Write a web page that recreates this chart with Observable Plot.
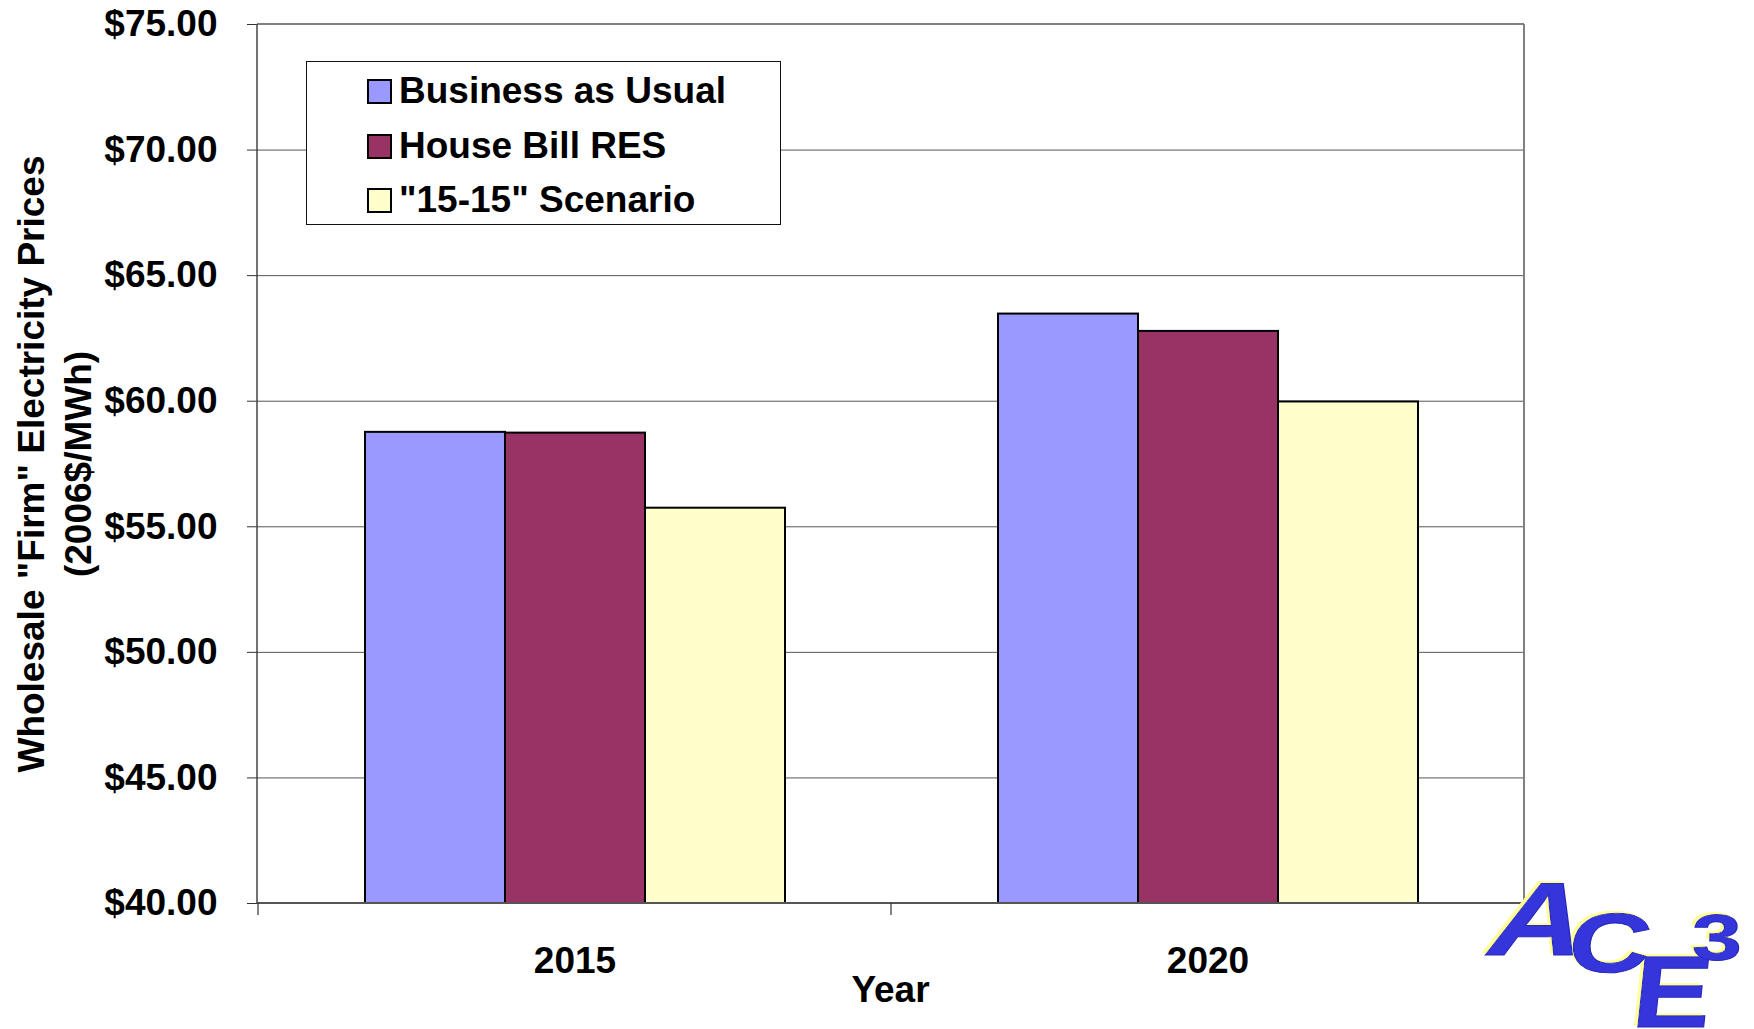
<!DOCTYPE html>
<html><head><meta charset="utf-8">
<script src="https://cdn.jsdelivr.net/npm/d3@7"></script>
<script src="https://cdn.jsdelivr.net/npm/@observablehq/plot@0.6"></script>
<style>
body{margin:0;background:#fff;}
#wrap{position:relative;width:1754px;height:1029px;font-family:"Liberation Sans",Arial,sans-serif;font-weight:bold;color:#000;overflow:hidden;}
#wrap > svg{position:absolute;left:0;top:0;}
.txt{position:absolute;font-size:37px;line-height:37px;white-space:nowrap;}
#legend{position:absolute;left:306px;top:61px;width:475px;height:164px;box-sizing:border-box;border:1.5px solid #111;background:#fff;}
.sw{position:absolute;left:60px;width:25px;height:25px;box-sizing:border-box;border:2px solid #000;}
#ytitle{position:absolute;left:-295.5px;top:417px;width:700px;height:94px;text-align:center;font-size:37px;line-height:47px;transform:rotate(-90deg);white-space:nowrap;}
#logo{position:absolute;left:1470px;top:850px;}
#logo svg{overflow:visible;}
</style></head><body><div id="wrap"></div>
<script>
// ---- data ----
const years = ["2015", "2020"];
const series = ["Business as Usual", "House Bill RES", "\"15-15\" Scenario"];
const colors = ["#9999ff", "#993366", "#ffffcc"];
const bau = [58.76, 63.47];
const houseRes = [58.73, 62.78];
const scen1515 = [55.74, 59.97];
const yTicks = [40, 45, 50, 55, 60, 65, 70, 75];
const yTitle = ["Wholesale \"Firm\" Electricity Prices", "(2006$/MWh)"];
const xTitle = "Year";

const rows = [];
years.forEach((yr, i) => {
  rows.push({year: yr, series: series[0], value: bau[i]});
  rows.push({year: yr, series: series[1], value: houseRes[i]});
  rows.push({year: yr, series: series[2], value: scen1515[i]});
});

const wrap = document.getElementById("wrap");

const plot = Plot.plot({
  width: 1754, height: 1029,
  marginLeft: 257, marginRight: 230, marginTop: 24, marginBottom: 126,
  style: {fontFamily: "Liberation Sans, Arial, sans-serif", fontWeight: "bold", fontSize: "37px", color: "#000", background: "transparent"},
  fx: {domain: years, padding: 0, label: null},
  x: {domain: series, paddingInner: 0, paddingOuter: 0.75, axis: null},
  y: {domain: [yTicks[0], yTicks[yTicks.length - 1]], axis: null},
  color: {domain: series, range: colors},
  marks: [
    Plot.gridY(yTicks, {stroke: "#555", strokeOpacity: 1, strokeWidth: 1}),
    Plot.barY(rows, {fx: "year", x: "series", y1: yTicks[0], y2: "value", fill: "series", stroke: "#000", strokeWidth: 2}),
    Plot.axisY(yTicks, {tickSize: 11, tickPadding: 30, tickFormat: d => "$" + d.toFixed(2), fontSize: 37, label: null, stroke: "#333"}),
    Plot.axisFx({anchor: "bottom", tickSize: 0, tickPadding: 43, fontSize: 37, label: null})
  ]
});
wrap.appendChild(plot);

// frame and category-boundary ticks from the library's scales
const svg = d3.select(plot);
const fx = plot.scale("fx"), ys = plot.scale("y");
const xl = fx.range[0], xr = fx.range[1];
const yt = ys.apply(yTicks[yTicks.length - 1]), yb = ys.apply(yTicks[0]);
const g = svg.append("g");
g.append("line").attr("x1", xl).attr("x2", xr).attr("y1", yt).attr("y2", yt).attr("stroke", "#808080").attr("stroke-width", 2);
g.append("line").attr("x1", xr).attr("x2", xr).attr("y1", yt).attr("y2", yb).attr("stroke", "#808080").attr("stroke-width", 2);
g.append("line").attr("x1", xl).attr("x2", xr).attr("y1", yb).attr("y2", yb).attr("stroke", "#555").attr("stroke-width", 2);
g.append("line").attr("x1", xl).attr("x2", xl).attr("y1", yt).attr("y2", yb).attr("stroke", "#444").attr("stroke-width", 1.5);
years.forEach(yr => {
  const x = fx.apply(yr);
  g.append("line").attr("x1", x).attr("x2", x).attr("y1", yb).attr("y2", yb + 12).attr("stroke", "#333").attr("stroke-width", 1.2);
});

// legend
const legend = document.createElement("div");
legend.id = "legend";
const swTops = [17, 72, 126], txtTops = [10, 65, 119];
series.forEach((s, i) => {
  const sw = document.createElement("div");
  sw.className = "sw"; sw.style.top = swTops[i] + "px"; sw.style.background = colors[i];
  legend.appendChild(sw);
  const t = document.createElement("div");
  t.className = "txt"; t.style.left = "92px"; t.style.top = txtTops[i] + "px"; t.textContent = s;
  legend.appendChild(t);
});
wrap.appendChild(legend);

// y title
const yt2 = document.createElement("div");
yt2.id = "ytitle";
yt2.innerHTML = yTitle.map(s => s.replace(/&/g, "&amp;").replace(/</g, "&lt;")).join("<br>");
wrap.appendChild(yt2);

// x title
const xt = document.createElement("div");
xt.className = "txt";
xt.style.left = (xl + xr) / 2 - 100 + "px"; xt.style.width = "200px"; xt.style.textAlign = "center";
xt.style.top = "971px";
xt.textContent = xTitle;
wrap.appendChild(xt);

// logo
const logo = document.createElement("div");
logo.id = "logo";
logo.innerHTML = `<svg width="284" height="179" viewBox="0 0 284 179" font-family="Liberation Sans, Arial, sans-serif" font-weight="bold">
<defs><filter id="bev" x="-20%" y="-20%" width="140%" height="140%">
<feDropShadow dx="-3" dy="-2" stdDeviation="0.6" flood-color="#ffff99" flood-opacity="1"/></filter></defs>
<g fill="#3434dc" stroke="#2a2ab8" stroke-width="1" filter="url(#bev)">
<text transform="translate(12,105) skewX(-18) scale(1.25,1)" font-size="104">A</text>
<text transform="translate(95,122) skewX(-8) scale(1.35,1)" font-size="84">C</text>
<text transform="translate(160,177) skewX(-6) scale(1.15,1)" font-size="102">E</text>
<text transform="translate(222,110) scale(1.4,1)" font-size="64">3</text>
</g></svg>`;
wrap.appendChild(logo);
</script>
</body></html>
